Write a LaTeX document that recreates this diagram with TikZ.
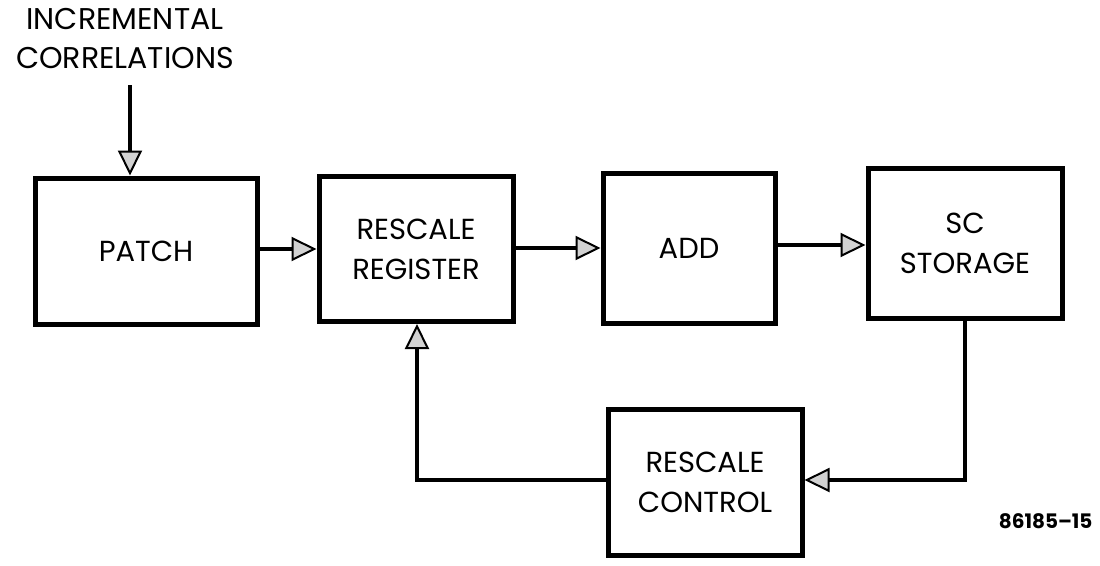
\documentclass[tikz,border=0pt]{standalone}
\usepackage{fontspec}
\setmainfont{Poppins}
\usetikzlibrary{arrows.meta}
\tikzset{
  blk/.style={draw, line width=5pt, minimum width=#1, inner sep=0pt, align=center, font=\fontsize{29}{40}\selectfont},
  conn/.style={line width=3.4pt, -{Triangle[length=25pt,width=24pt,fill=gray!35,line width=2pt]}},
  plain/.style={line width=3.4pt}
}
\begin{document}
\begin{tikzpicture}[x=1pt,y=-1pt]
\useasboundingbox (0,0) rectangle (1100,565);
\node[blk=222pt, minimum height=146pt] (patch) at (146,251) {PATCH};
\node[blk=194pt, minimum height=145pt] (reg) at (416,249) {RESCALE\\REGISTER};
\node[blk=172pt, minimum height=150pt] (add) at (689,248) {ADD};
\node[blk=194pt, minimum height=150pt] (sc) at (965,243) {SC\\STORAGE};
\node[blk=194pt, minimum height=146pt] (ctl) at (705,482) {RESCALE\\CONTROL};
\node[font=\fontsize{30}{39}\selectfont, align=center] (inc) at (125,39) {INCREMENTAL\\CORRELATIONS};
\node[font=\bfseries\fontsize{20}{24}\selectfont, anchor=east] (num) at (1096,521) {86185--15};
\coordinate (incs) at (130,85);
\draw[conn] (incs) -- (incs |- patch.north);
\draw[conn] (patch.east |- 0,249) -- (reg.west |- 0,249);
\draw[conn] (reg.east |- 0,248) -- (add.west |- 0,248);
\draw[conn] (add.east |- 0,245) -- (sc.west |- 0,245);
\coordinate (c1) at (965,480);
\draw[conn] (sc.south) -- (c1) -- (ctl.east |- c1);
\coordinate (c2) at (417,480);
\draw[conn] (ctl.west |- c2) -- (c2) -- (c2 |- reg.south);
\end{tikzpicture}
\end{document}
